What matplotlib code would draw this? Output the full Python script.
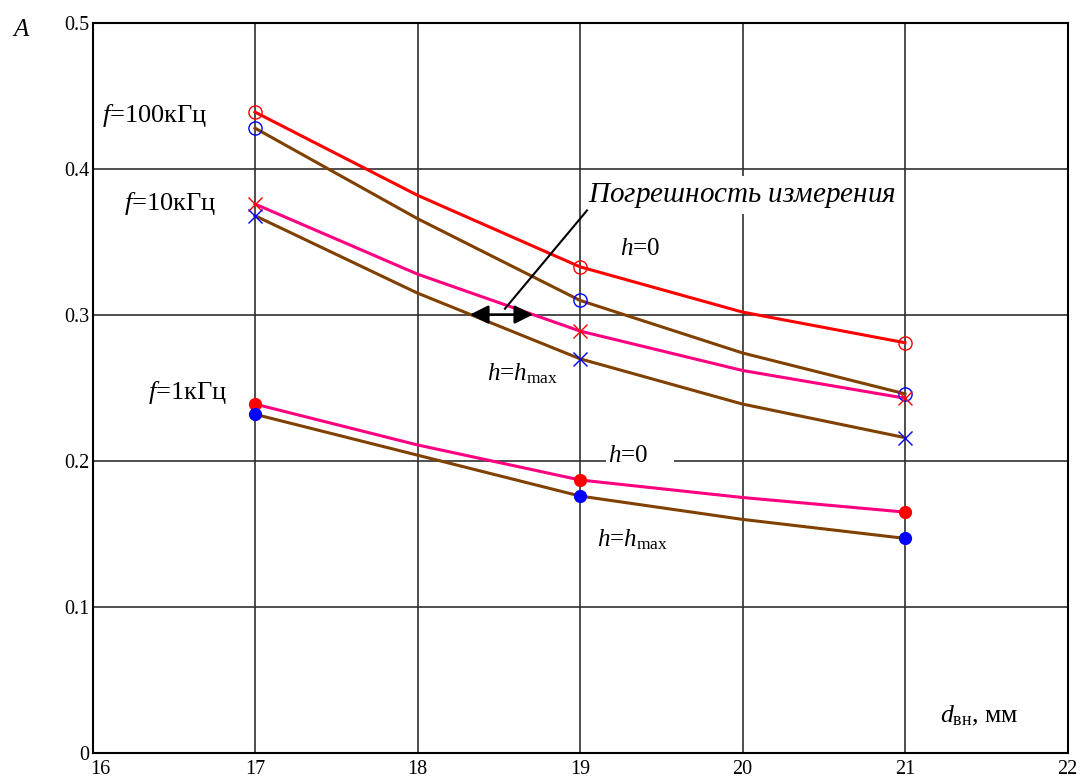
import matplotlib
matplotlib.use("Agg")
import matplotlib.pyplot as plt
import matplotlib.transforms as mtransforms
from matplotlib.patches import Rectangle

plt.rcParams['font.family'] = ['Liberation Serif', 'DejaVu Serif']
plt.rcParams['mathtext.fontset'] = 'custom'
plt.rcParams['mathtext.rm'] = 'Liberation Serif'
plt.rcParams['mathtext.it'] = 'Liberation Serif:italic'
plt.rcParams['mathtext.bf'] = 'Liberation Serif:bold'

# ---- data ----
d_mm = [17, 18, 19, 20, 21]
a_100k_h0 = [0.439, 0.382, 0.333, 0.302, 0.281]
a_100k_hmax = [0.428, 0.366, 0.310, 0.274, 0.246]
a_10k_h0 = [0.376, 0.328, 0.289, 0.262, 0.243]
a_10k_hmax = [0.368, 0.315, 0.270, 0.239, 0.216]
a_1k_h0 = [0.239, 0.211, 0.187, 0.175, 0.165]
a_1k_hmax = [0.232, 0.204, 0.176, 0.160, 0.147]
marker_idx = [0, 2, 4]  # measured points at 17, 19, 21 mm

x_ticks = [16, 17, 18, 19, 20, 21, 22]
y_ticks = [0, 0.1, 0.2, 0.3, 0.4, 0.5]
y_tick_labels = ['0', '0.1', '0.2', '0.3', '0.4', '0.5']

RED = '#FF0000'
BROWN = '#804000'
PINK = '#FF0080'
BLUE = '#0000FF'

fig = plt.figure(figsize=(10.84, 7.8), dpi=100)
ax = fig.add_axes([92.5 / 1084, 27 / 780, 975 / 1084, 730 / 780])

series = [
    (a_100k_h0, RED, 'o', RED, 'none'),
    (a_100k_hmax, BROWN, 'o', BLUE, 'none'),
    (a_10k_h0, PINK, 'x', RED, RED),
    (a_10k_hmax, BROWN, 'x', BLUE, BLUE),
    (a_1k_h0, PINK, 'o', RED, RED),
    (a_1k_hmax, BROWN, 'o', BLUE, BLUE),
]
for vals, lc, mk, mc, mfc in series:
    ax.plot(d_mm, vals, color=lc, lw=2.2, zorder=3)
    ms = 9.5 if mk != 'o' or mfc == 'none' else 8.5
    ax.plot([d_mm[i] for i in marker_idx], [vals[i] for i in marker_idx],
            linestyle='none', marker=mk, markersize=ms,
            markeredgecolor=mc, markerfacecolor=mfc, markeredgewidth=1.0,
            zorder=4)

ax.set_xlim(16, 22)
ax.set_ylim(0, 0.5)
ax.set_xticks(x_ticks)
ax.set_yticks(y_ticks)
ax.set_yticklabels(y_tick_labels)
ax.tick_params(length=0, labelsize=14.5)
ax.tick_params(axis='y', pad=2)
ax.tick_params(axis='x', pad=5)
ax.grid(True, color='#303030', lw=1.2)
ax.set_axisbelow(True)
for s in ax.spines.values():
    s.set_linewidth(1.5)
    s.set_color('black')

# nudge the first x tick label right (as in the reference) so it clears the "0"
first_lbl = ax.get_xticklabels()[0]
first_lbl.set_transform(first_lbl.get_transform() +
                        mtransforms.ScaledTranslation(6 / 72, 0, fig.dpi_scale_trans))

# labels
fig.text(12 / 1084, 1 - 36 / 780, r'$A$', fontsize=18, ha='left', va='baseline')

ax.text(16.058, 0.432, r'$f$=100кГц', fontsize=19, ha='left', va='baseline')
ax.text(16.194, 0.3716, r'$f$=10кГц', fontsize=19, ha='left', va='baseline')
ax.text(16.342, 0.2424, r'$f$=1кГц', fontsize=19, ha='left', va='baseline')

ax.text(19.049, 0.3777, r'$Погрешность\ измерения$', fontsize=21,
        ha='left', va='baseline', zorder=5,
        bbox=dict(facecolor='white', edgecolor='none', pad=3))

ax.text(19.246, 0.3409, r'$h$=0', fontsize=18, ha='left', va='baseline')
ax.text(18.428, 0.2555, r'$h$=$h_{\rm max}$', fontsize=18, ha='left', va='baseline')

ax.add_patch(Rectangle((19.16, 0.193), 0.42, 0.03, facecolor='white',
                       edgecolor='none', zorder=2.5))
ax.text(19.172, 0.1992, r'$h$=0', fontsize=18, ha='left', va='baseline', zorder=5)
ax.text(19.105, 0.1415, r'$h$=$h_{\rm max}$', fontsize=18, ha='left', va='baseline')

ax.text(21.215, 0.0213, r'$d_{\rm вн}$, мм', fontsize=18.5, ha='left', va='baseline')

# annotation: line + double arrow
ax.plot([19.043, 18.538], [0.3716, 0.3043], color='black', lw=1.5, zorder=5)
ax.annotate('', xy=(18.323, 0.3003), xytext=(18.711, 0.3003),
            arrowprops=dict(arrowstyle='<|-|>', color='black', lw=1.8,
                            mutation_scale=28, shrinkA=0, shrinkB=0),
            zorder=5)

fig.savefig('out.png', dpi=100)
